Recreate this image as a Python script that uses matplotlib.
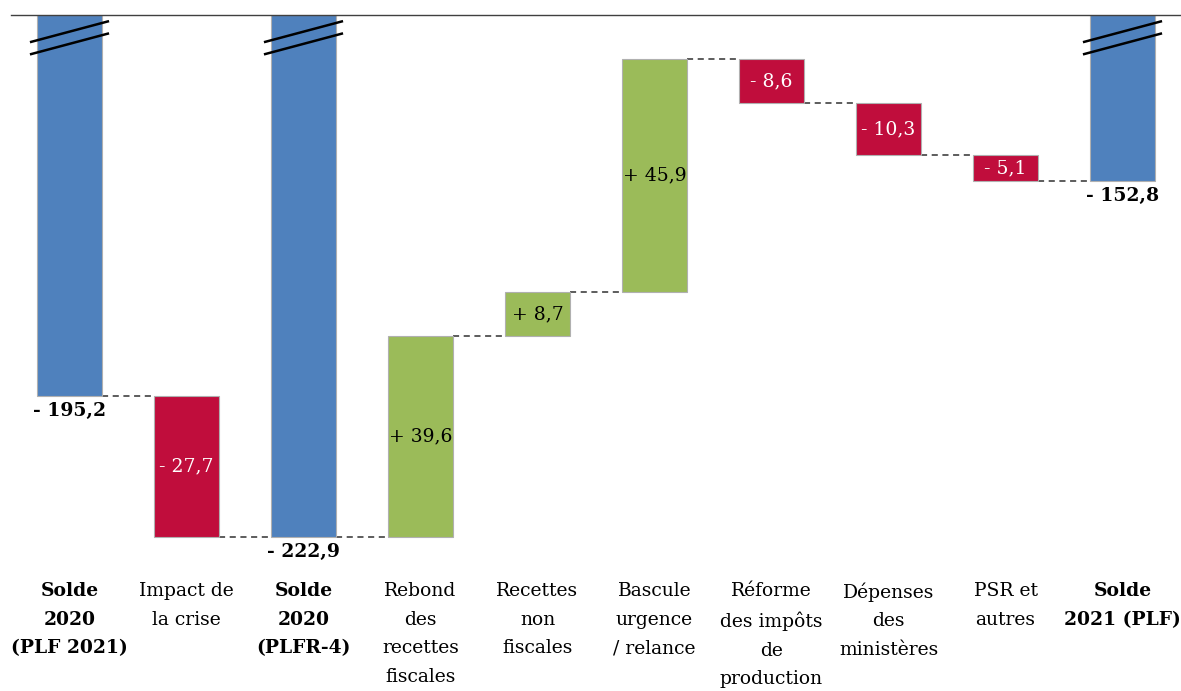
import matplotlib
matplotlib.use('Agg')
import matplotlib.pyplot as plt
import matplotlib.transforms as mtransforms

# Données (Md€)
categories = ['Solde\n2020\n(PLF 2021)', 'Impact de\nla crise', 'Solde\n2020\n(PLFR-4)',
              'Rebond\ndes\nrecettes\nfiscales', 'Recettes\nnon\nfiscales',
              'Bascule\nurgence\n/ relance', 'Réforme\ndes impôts\nde\nproduction',
              'Dépenses\ndes\nministères', 'PSR et\nautres', 'Solde\n2021 (PLF)']
values = [-195.2, -27.7, -222.9, 39.6, 8.7, 45.9, -8.6, -10.3, -5.1, -152.8]
is_total = [True, False, True, False, False, False, False, False, False, True]

BLUE = '#4F81BD'
RED = '#C00D3C'
GREEN = '#9BBB59'
TOP = -120.0
W = 0.56
FS = 13.5

plt.rcParams['font.family'] = ['DejaVu Serif']

fig = plt.figure(figsize=(11.81, 6.91), dpi=100)
ax = fig.add_axes([11 / 1181, 121 / 691, 1170 / 1181, 555 / 691])
ax.set_xlim(-0.5, 9.5)
ax.set_ylim(-229.4, TOP)

def fmt(v):
    s = '-' if v < 0 else '+'
    return (s + ' ' + '%.1f' % abs(v)).replace('.', ',')

level = 0.0
ends = []
tr = mtransforms.blended_transform_factory(ax.transData, ax.transAxes)
for i, v in enumerate(values):
    if is_total[i]:
        ax.bar(i, TOP - v, bottom=v, width=W, color=BLUE, edgecolor='#b0b0b0', linewidth=0.8, zorder=2)
        ax.annotate(fmt(v), (i, v), xytext=(0, -4), textcoords='offset points',
                    ha='center', va='top', fontsize=FS, fontweight='bold')
        level = v
        # signe de rupture
        for dy in (0, -0.022):
            ax.plot([i - 0.338, i + 0.338], [0.951 + dy, 0.989 + dy], color='black',
                    lw=1.8, transform=tr, zorder=4, solid_capstyle='butt')
    else:
        start = level
        level = start + v
        col = GREEN if v > 0 else RED
        ax.bar(i, abs(v), bottom=min(start, level), width=W, color=col,
               edgecolor='#b0b0b0', linewidth=0.8, zorder=2)
        ax.text(i, (start + level) / 2, fmt(v), ha='center', va='center', fontsize=FS,
                color='black' if v > 0 else 'white', zorder=3)
    ends.append(level)

# lignes de liaison
for i in range(len(values) - 1):
    ax.plot([i + W / 2, i + 1 - W / 2], [ends[i], ends[i]], ls=(0, (4, 3)),
            color='#303030', lw=1.1, zorder=1)

# étiquettes des catégories
for i, c in enumerate(categories):
    ax.text(i, -0.022, c, transform=tr, ha='center', va='top', fontsize=FS,
            linespacing=1.75, fontweight='bold' if is_total[i] else 'normal')

for s in ['left', 'right', 'bottom']:
    ax.spines[s].set_visible(False)
ax.spines['top'].set_color('#404040')
ax.spines['top'].set_linewidth(1.0)
ax.set_xticks([])
ax.set_yticks([])

fig.savefig('out.png', dpi=100)
